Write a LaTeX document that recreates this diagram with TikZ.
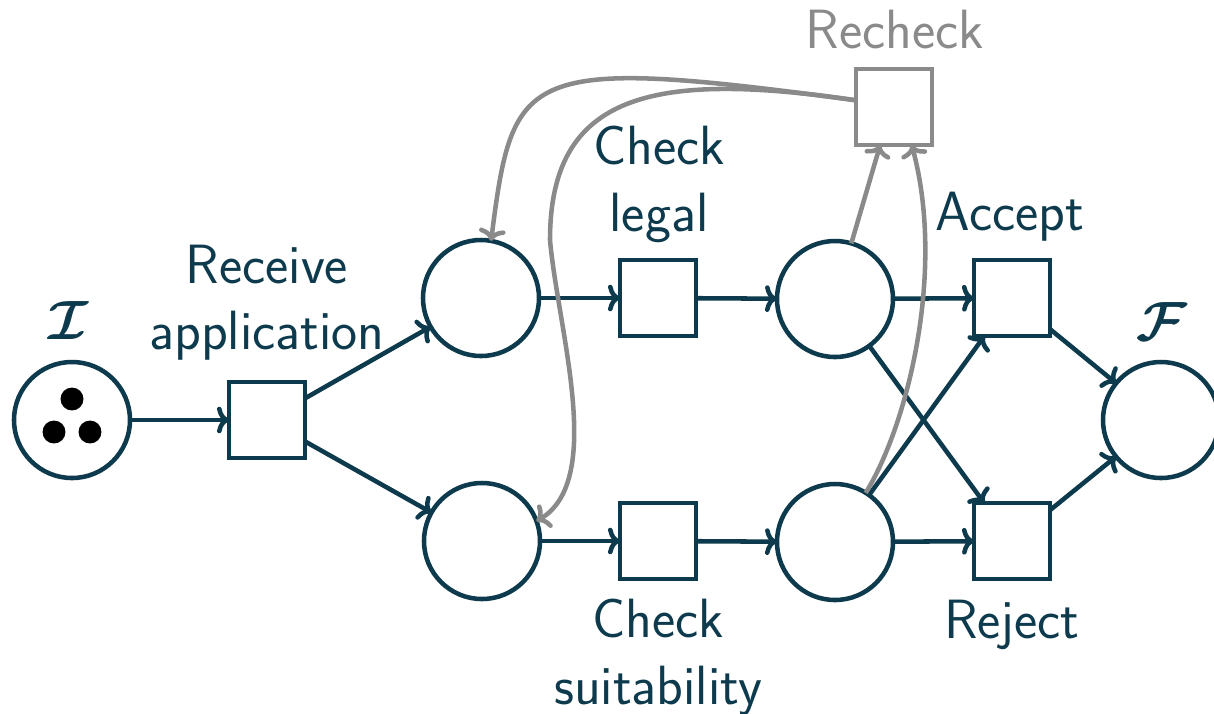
\documentclass[tikz,border=0pt]{standalone}
\usepackage{amsmath}
\usepackage{bm}
\usepackage{fontspec}
\usetikzlibrary{arrows.meta}
\definecolor{teal}{HTML}{0D3A4C}
\definecolor{rgray}{HTML}{8A8A8A}
\begin{document}
\begin{tikzpicture}[x=0.375pt,y=-0.375pt,
  every node/.style={inner sep=0pt,outer sep=0pt},
  place/.style={circle,draw=teal,line width=1.7pt,minimum size=43.5pt},
  trans/.style={rectangle,draw=teal,line width=1.7pt,minimum size=28.5pt},
  rtrans/.style={rectangle,draw=rgray,line width=1.7pt,minimum size=28.5pt},
  token/.style={circle,fill=black,minimum size=8.6pt},
  lbl/.style={font=\fontsize{20.74}{25}\selectfont\sffamily,text=teal,align=center},
  rlbl/.style={font=\fontsize{20.74}{25}\selectfont\sffamily,text=rgray,align=center},
  mlbl/.style={font=\fontsize{20.74}{25}\selectfont,text=teal},
  arc/.style={draw=teal,line width=1.7pt,-{To[length=4.5pt,width=10pt]}},
  rarc/.style={draw=rgray,line width=1.7pt,-{To[length=4.5pt,width=10pt]}}]
\useasboundingbox (0,0) rectangle (1214,713);
% places
\node[place] (pi) at (72,420) {};
\node[place] (p1) at (481,298) {};
\node[place] (p2) at (482,541) {};
\node[place] (p3) at (835,299) {};
\node[place] (p4) at (835,542) {};
\node[place] (pf) at (1161,420) {};
% tokens
\node[token] (t1) at (72,399) {};
\node[token] (t2) at (54,432) {};
\node[token] (t3) at (90,432) {};
% transitions
\node[trans] (tr) at (267,420) {};
\node[trans] (tl) at (658,298) {};
\node[trans] (ts) at (658,541) {};
\node[trans] (ta) at (1012,298) {};
\node[trans] (tj) at (1012,541) {};
\node[rtrans] (rc) at (894,107) {};
% labels
\node[mlbl] (li) at (69,321) {$\bm{\mathcal{I}}$};
\node[mlbl] (lf) at (1162,322) {$\bm{\mathcal{F}}$};
\node[lbl] (lr) at (267,302.6) {Receive\\application};
\node[lbl] (ll) at (659,184.5) {Check\\legal};
\node[lbl] (ls) at (658,657.5) {Check\\suitability};
\node[lbl,anchor=base] (la) at (1010,230) {Accept};
\node[lbl,anchor=base] (lj) at (1012,638) {Reject};
\node[rlbl,anchor=base] (lc) at (895,48) {Recheck};
% arcs
\draw[arc] (pi) -- (tr);
\draw[arc] (tr) -- (p1);
\draw[arc] (tr) -- (p2);
\draw[arc] (p1) -- (tl);
\draw[arc] (p2) -- (ts);
\draw[arc] (tl) -- (p3);
\draw[arc] (ts) -- (p4);
\draw[arc] (p3) -- (ta);
\draw[arc] (p3) -- (tj);
\draw[arc] (p4) -- (ta);
\draw[arc] (p4) -- (tj);
\draw[arc] (ta) -- (pf);
\draw[arc] (tj) -- (pf);
% recheck arcs
\coordinate (rb) at (550,240);
\draw[rarc] (p3) -- (rc.-110);
\draw[rarc] (p4.58) .. controls +(42,-68) and +(34,126) .. (rc.-65);
\draw[rarc] (rc.170) .. controls +(-335,-45) and +(22,-172) .. (p1.80);
\draw[rarc] (rc.170) .. controls (650,70) and (550,95) .. (rb)
  .. controls +(8,90) and +(69,-41) .. (p2.20);
\end{tikzpicture}
\end{document}
